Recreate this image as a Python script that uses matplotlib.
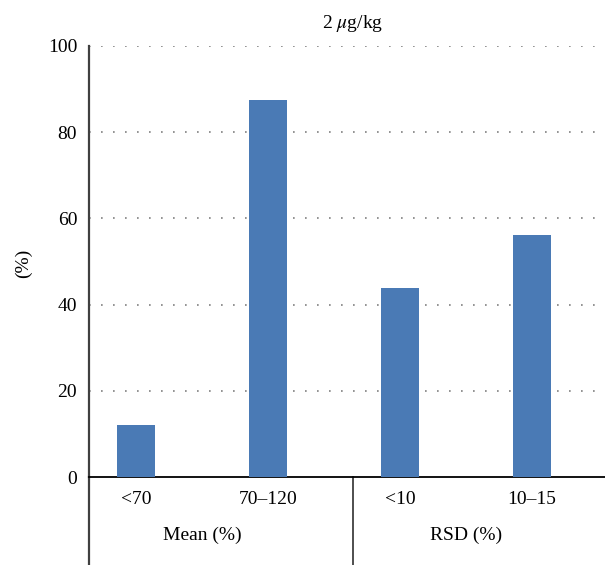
import numpy as np
import matplotlib
matplotlib.use("Agg")
import matplotlib.pyplot as plt
from matplotlib.lines import Line2D

# data
categories = ["<70", "70\u2013120", "<10", "10\u201315"]
groups = ["Mean (%)", "RSD (%)"]
values = [12.0, 87.5, 43.75, 56.25]
yticks = [0, 20, 40, 60, 80, 100]

plt.rcParams['font.family'] = ['Liberation Serif', 'DejaVu Serif']
plt.rcParams['mathtext.fontset'] = 'stix'
FS = 14

W, H = 605, 565
fig = plt.figure(figsize=(W / 100, H / 100), dpi=100)

# axes geometry in pixels
left_px, right_px = 89, 605
bottom_px, top_px = 477, 46
ax = fig.add_axes([left_px / W, (H - bottom_px) / H,
                   (right_px - left_px) / W, (bottom_px - top_px) / H])

x = np.arange(len(categories))
step = 132.0  # px per category
x0 = 136.0    # px of first bar centre
ax.set_xlim((left_px - x0) / step, (right_px - x0) / step)
ax.set_ylim(0, 100)

ax.bar(x, values, width=38 / step, color="#4a7ab5", zorder=3)

# dotted gridlines
for yv in yticks[1:]:
    ax.axhline(yv, color="#808080", linestyle=(0, (1, 6.2)), linewidth=1.2, zorder=1)

ax.set_yticks(yticks)
ax.set_yticklabels([str(v) for v in yticks], fontsize=FS)
ax.tick_params(axis='y', length=0, pad=8.5)
ax.set_xticks([])

for s in ["top", "right"]:
    ax.spines[s].set_visible(False)
ax.spines["left"].set_color("#404040")
ax.spines["left"].set_linewidth(1.6)
ax.spines["bottom"].set_color("black")
ax.spines["bottom"].set_linewidth(1.3)

# category labels below the axis
trans = ax.get_xaxis_transform()
lab_y = -(499 - bottom_px) / (bottom_px - top_px)
grp_y = -(535 - bottom_px) / (bottom_px - top_px)
for xi, c in zip(x, categories):
    ax.text(xi, lab_y, c, transform=trans, ha="center", va="center", fontsize=FS)
for gi, g in enumerate(groups):
    ax.text(2 * gi + 0.5, grp_y, g, transform=trans, ha="center", va="center", fontsize=FS)

# vertical separators extending below the axis
low = -(H - bottom_px) / (bottom_px - top_px)
ax.add_line(Line2D([(left_px - x0) / step] * 2, [low, 0], transform=trans,
                   color="#404040", linewidth=1.6, clip_on=False))
sep = (353 - x0) / step
ax.add_line(Line2D([sep, sep], [low, 0], transform=trans,
                   color="#404040", linewidth=1.3, clip_on=False))

fig.text(353 / W, 1 - 23 / H, r"2 $\mu$g/kg", ha="center", va="center", fontsize=FS)
fig.text(23 / W, 1 - 263 / H, "(%)", rotation=90, ha="center", va="center", fontsize=FS)

fig.savefig("out.png", dpi=100)
